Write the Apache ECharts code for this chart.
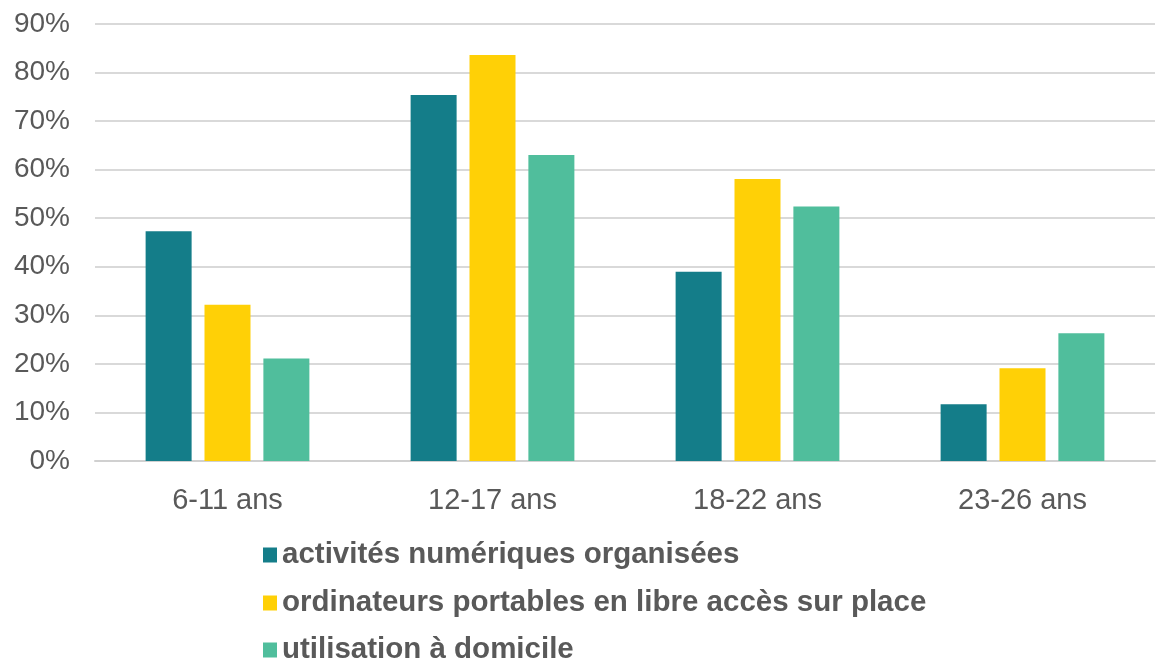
<!DOCTYPE html>
<html>
<head>
<meta charset="utf-8">
<script src="https://cdn.jsdelivr.net/npm/echarts@6/dist/echarts.min.js"></script>
<style>
  html, body { margin: 0; padding: 0; background: #fff; }
  #main { width: 1156px; height: 664px; }
</style>
</head>
<body>
<div id="main"></div>
<script>
var categories = ['6-11 ans', '12-17 ans', '18-22 ans', '23-26 ans']
var seriesNames = [
    'activités numériques organisées',
    'ordinateurs portables en libre accès sur place',
    'utilisation à domicile'
]
var activites = [47.3, 75.4, 39.0, 11.7]
var ordinateurs = [32.2, 83.6, 58.1, 19.1]
var domicile = [21.1, 63.0, 52.4, 26.3]
var colors = ['#147D89', '#FFD006', '#50BE9C']

var myChart = echarts.init(document.getElementById('main'))

var allValues = [activites, ordinateurs, domicile]
var series = []
var legends = []
var legendTops = [540, 588, 635]
for (var i = 0; i < allValues.length; i++) {
    series.push({
        name: seriesNames[i],
        type: 'bar',
        barWidth: 46,
        barGap: '28%',
        itemStyle: { color: colors[i] },
        data: allValues[i]
    })
    // one legend per row so it never wraps into columns
    legends.push({
        orient: 'vertical',
        left: 263,
        top: legendTops[i],
        padding: 0,
        itemWidth: 14,
        itemHeight: 15,
        icon: 'rect',
        textStyle: {
            fontFamily: 'Liberation Sans, Arial, sans-serif',
            fontSize: 29.5,
            lineHeight: 30,
            fontWeight: 'bold',
            color: '#595959'
        },
        data: [seriesNames[i]]
    })
}

var option = {
    animation: false,
    textStyle: { fontFamily: 'Liberation Sans, Arial, sans-serif' },
    grid: { left: 95, right: 1, top: 24, bottom: 203 },
    legend: legends,
    xAxis: {
        type: 'category',
        data: categories,
        axisLine: { lineStyle: { color: '#d0d0d0', width: 2 } },
        axisTick: { length: 9, lineStyle: { color: '#d0d0d0', width: 2 } },
        axisLabel: { fontSize: 29, color: '#595959', margin: 25 }
    },
    yAxis: {
        type: 'value',
        min: 0,
        max: 90,
        interval: 10,
        axisLine: { show: false },
        axisTick: { show: false },
        axisLabel: { formatter: '{value}%', fontSize: 28, color: '#595959', margin: 25 },
        splitLine: { lineStyle: { color: '#d9d9d9', width: 2 } }
    },
    series: series
}
myChart.setOption(option)
</script>
</body>
</html>
